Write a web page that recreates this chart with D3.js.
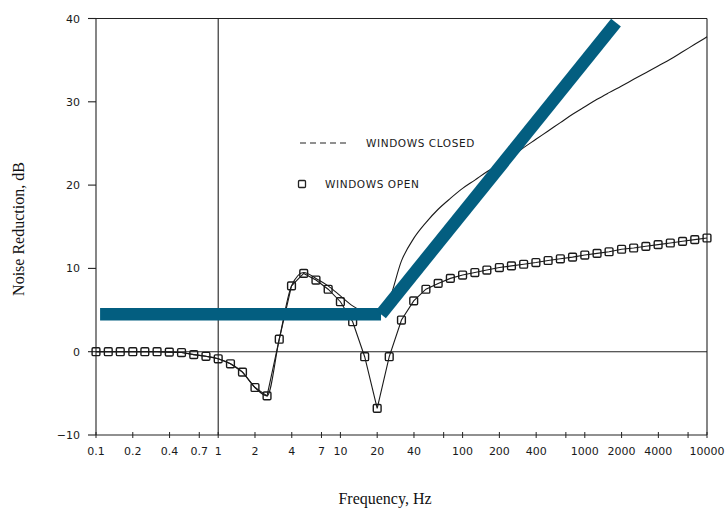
<!DOCTYPE html>
<html>
<head>
<meta charset="utf-8">
<script src="https://cdn.jsdelivr.net/npm/d3@7/dist/d3.min.js"></script>
<style>
  html, body { margin: 0; padding: 0; background: #fff; }
  svg { display: block; }
  .tick-label { font-family: "DejaVu Sans", sans-serif; font-size: 11px; fill: #1a1a1a; }
  .legend-label { font-family: "DejaVu Sans", sans-serif; font-size: 10.5px; fill: #1a1a1a; letter-spacing: 0.6px; }
  .axis-title { font-family: "Liberation Serif", "Times New Roman", serif; font-size: 16px; fill: #111; }
</style>
</head>
<body>
<svg id="chart" width="728" height="515"></svg>
<script>
// ---- data ----
const freqs = [0.1,0.126,0.158,0.2,0.251,0.316,0.398,0.501,0.631,0.794,
  1,1.26,1.58,2,2.51,3.16,3.98,5.01,6.31,7.94,
  10,12.6,15.8,20,25.1,31.6,39.8,50.1,63.1,79.4,
  100,126,158,200,251,316,398,501,631,794,
  1000,1260,1580,2000,2510,3160,3980,5010,6310,7940,10000];

const windowsOpen = [0,0,0,0,0,0,-0.05,-0.1,-0.35,-0.55,
  -0.85,-1.45,-2.45,-4.3,-5.3,1.5,7.9,9.4,8.6,7.5,
  6.0,3.6,-0.6,-6.8,-0.6,3.8,6.1,7.5,8.2,8.8,
  9.2,9.5,9.8,10.1,10.3,10.5,10.7,10.95,11.15,11.35,
  11.6,11.8,12.0,12.3,12.45,12.65,12.85,13.05,13.25,13.45,13.65];

const windowsClosed = [0,0,0,0,0,0,-0.05,-0.1,-0.35,-0.55,
  -0.85,-1.45,-2.45,-4.3,-5.3,1.5,7.9,9.5,8.8,7.9,
  6.7,5.5,4.7,4.3,6.2,10.9,13.6,15.5,17.1,18.4,
  19.6,20.6,21.6,22.5,23.4,24.5,25.5,26.5,27.5,28.5,
  29.4,30.3,31.1,31.9,32.7,33.5,34.3,35.1,36.0,36.9,37.8];

// highlighted straight-line approximation (two segments)
const trendFlat = [{f: 0.108, db: 4.5}, {f: 21.5, db: 4.5}];
const trendRise = [{f: 21.5, db: 4.5}, {f: 1800, db: 39.5}];

const xTickValues = [0.1,0.2,0.4,0.7,1,2,4,7,10,20,40,70,100,200,400,700,1000,2000,4000,7000,10000];
const xTickLabels = ["0.1","0.2","0.4","0.7","1","2","4","7","10","20","40","","100","200","400","","1000","2000","4000","","10000"];
const yTickValues = [-10,0,10,20,30,40];
const yTickLabels = ["\u221210","0","10","20","30","40"];

// ---- drawing ----
const svg = d3.select("#chart");
const x = d3.scaleLog().domain([0.1, 10000]).range([96, 707]);
const y = d3.scaleLinear().domain([-10, 40]).range([435, 18.5]);

const frame = svg.append("g").attr("stroke", "#222").attr("stroke-width", 1.1).attr("fill", "none");
frame.append("line").attr("x1", x(0.1)).attr("x2", x(10000)).attr("y1", y(40)).attr("y2", y(40));
frame.append("line").attr("x1", x(0.1)).attr("x2", x(10000)).attr("y1", y(-10)).attr("y2", y(-10));
frame.append("line").attr("x1", x(0.1)).attr("x2", x(0.1)).attr("y1", y(-10)).attr("y2", y(40));
frame.append("line").attr("x1", x(10000)).attr("x2", x(10000)).attr("y1", y(-10)).attr("y2", y(40));
frame.append("line").attr("x1", x(1)).attr("x2", x(1)).attr("y1", y(-10)).attr("y2", y(40));
frame.append("line").attr("x1", x(0.1)).attr("x2", x(10000)).attr("y1", y(0)).attr("y2", y(0));

const xt = svg.append("g");
xTickValues.forEach((v, i) => {
  xt.append("line").attr("x1", x(v)).attr("x2", x(v)).attr("y1", y(-10) - 3).attr("y2", y(-10) + 3)
    .attr("stroke", "#222").attr("stroke-width", 1);
  if (xTickLabels[i]) {
    xt.append("text").attr("class", "tick-label").attr("x", x(v)).attr("y", y(-10) + 20)
      .attr("text-anchor", "middle").text(xTickLabels[i]);
  }
});
const yt = svg.append("g");
yTickValues.forEach((v, i) => {
  yt.append("line").attr("x1", x(0.1) - 8).attr("x2", x(0.1)).attr("y1", y(v)).attr("y2", y(v))
    .attr("stroke", "#222").attr("stroke-width", 1.1);
  yt.append("text").attr("class", "tick-label").attr("x", x(0.1) - 16).attr("y", y(v) + 4)
    .attr("text-anchor", "end").text(yTickLabels[i]);
});

const openPts = freqs.map((f, i) => ({f, db: windowsOpen[i]}));
const closedPts = freqs.map((f, i) => ({f, db: windowsClosed[i]}));

svg.append("path").datum(closedPts)
  .attr("d", d3.line().x(d => x(d.f)).y(d => y(d.db)).curve(d3.curveMonotoneX))
  .attr("fill", "none").attr("stroke", "#1a1a1a").attr("stroke-width", 1.1);

svg.append("path").datum(openPts)
  .attr("d", d3.line().x(d => x(d.f)).y(d => y(d.db)))
  .attr("fill", "none").attr("stroke", "#1a1a1a").attr("stroke-width", 1.1);

svg.append("g").selectAll("rect").data(openPts).join("rect")
  .attr("x", d => x(d.f) - 3.9).attr("y", d => y(d.db) - 3.9)
  .attr("width", 7.8).attr("height", 7.8).attr("rx", 1.2)
  .attr("fill", "none").attr("stroke", "#1a1a1a").attr("stroke-width", 1.4);

const tl = d3.line().x(d => x(d.f)).y(d => y(d.db));
[trendFlat, trendRise].forEach(seg => {
  svg.append("path").datum(seg).attr("d", tl)
    .attr("fill", "none").attr("stroke", "#035e80").attr("stroke-width", 12.5).attr("stroke-linecap", "butt");
});

const lg = svg.append("g");
lg.append("line").attr("x1", 300).attr("x2", 350).attr("y1", 143).attr("y2", 143)
  .attr("stroke", "#222").attr("stroke-width", 1.2).attr("stroke-dasharray", "6,4");
lg.append("text").attr("class", "legend-label").attr("x", 366).attr("y", 147).text("WINDOWS CLOSED");
lg.append("rect").attr("x", 298.5).attr("y", 180.5).attr("width", 7).attr("height", 7).attr("rx", 1)
  .attr("fill", "none").attr("stroke", "#222").attr("stroke-width", 1.3);
lg.append("text").attr("class", "legend-label").attr("x", 325).attr("y", 188).text("WINDOWS OPEN");

svg.append("text").attr("class", "axis-title").attr("x", 385).attr("y", 504)
  .attr("text-anchor", "middle").text("Frequency, Hz");
svg.append("text").attr("class", "axis-title")
  .attr("transform", "translate(24,229) rotate(-90)")
  .attr("text-anchor", "middle").text("Noise Reduction, dB");
</script>
</body>
</html>
